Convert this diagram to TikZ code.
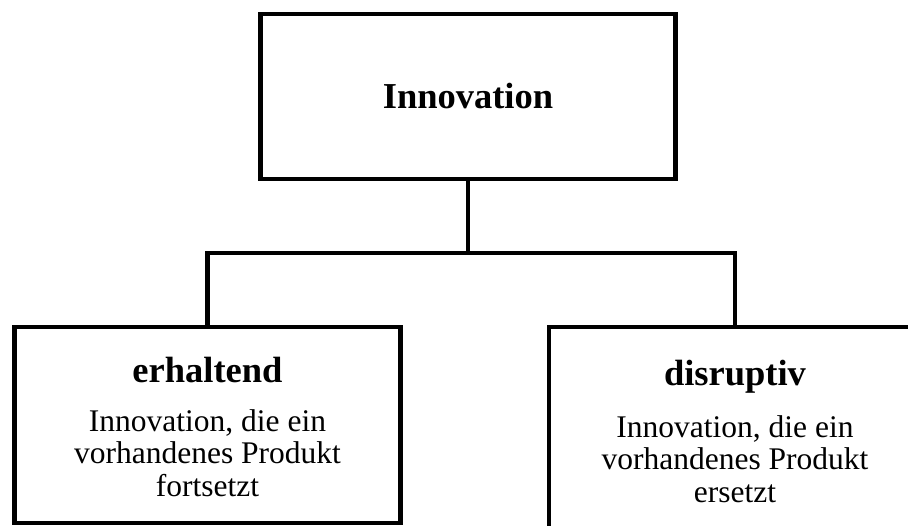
\documentclass[tikz,border=0pt]{standalone}
\usepackage{fontspec}
\setmainfont{Liberation Serif}
\usetikzlibrary{positioning}

\begin{document}
\begin{tikzpicture}[x=1pt,y=-1pt,
    frame/.style={draw, line width=4.8pt, outer sep=0pt, inner sep=0pt},
    headtext/.style={inner sep=0pt, font=\fontsize{36.5}{40}\selectfont\bfseries},
    desctext/.style={inner sep=0pt, align=center, font=\fontsize{31.5}{32.2}\selectfont},
    link/.style={line width=4.8pt}]
\useasboundingbox (0,0) rectangle (908,525);
\clip (0,0) rectangle (908,525);
% boxes
\node [frame, headtext, minimum width=415pt, minimum height=165pt] (innov) at (468,96.5) {Innovation};
\node [frame, minimum width=386pt, minimum height=196pt] (erh) at (207.5,425) {};
\node [frame, minimum width=372pt, minimum height=206pt] (dis) at (735,430) {};
% texts
\node [headtext, below=55pt of erh.north, anchor=base] (erhhead) {erhaltend};
\node [desctext, below=169pt of erh.north, anchor=base] (erhdesc) {Innovation, die ein\\vorhandenes Produkt\\fortsetzt};
\node [headtext, below=58pt of dis.north, anchor=base] (dishead) {disruptiv};
\node [desctext, below=175pt of dis.north, anchor=base] (disdesc) {Innovation, die ein\\vorhandenes Produkt\\ersetzt};
% lines
\coordinate (join) at (468,253);
\draw [link] (innov.south) -- (join);
\draw [link] (erh.north) |- (join) -| (dis.north);
\end{tikzpicture}
\end{document}
